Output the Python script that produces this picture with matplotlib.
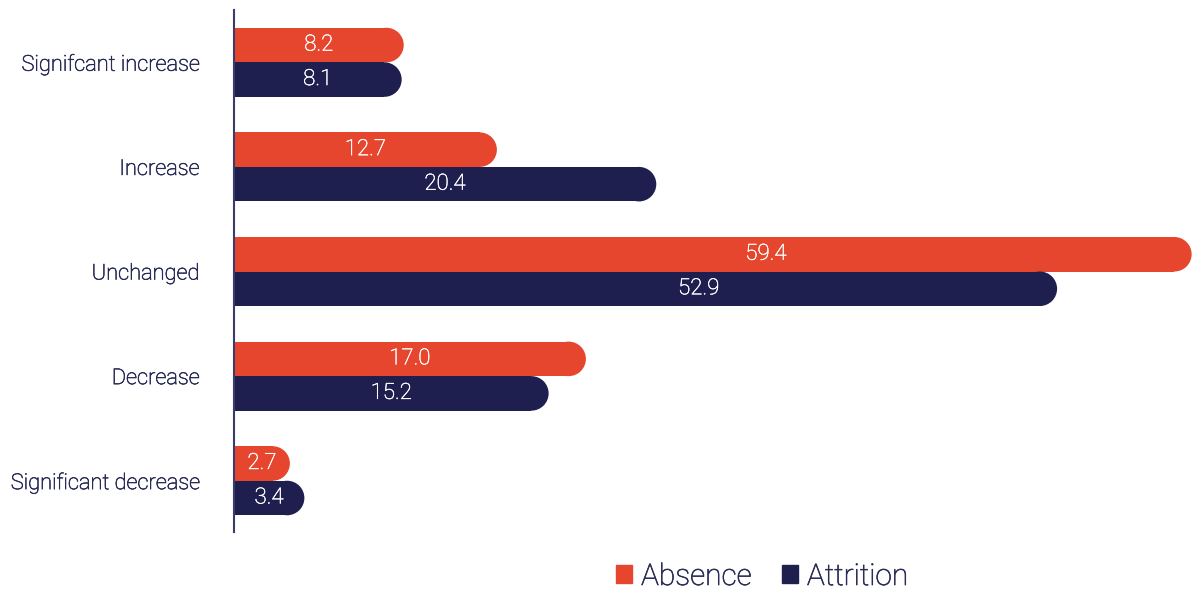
import numpy as np
import matplotlib
matplotlib.use("Agg")
import matplotlib.pyplot as plt
import matplotlib.patheffects as pe
from matplotlib.patches import Ellipse, Patch

# Data
categories = ["Signifcant increase", "Increase", "Unchanged", "Decrease", "Significant decrease"]
absence = [8.2, 12.7, 59.4, 17.0, 2.7]
attrition = [8.1, 20.4, 52.9, 15.2, 3.4]
series_names = ["Absence", "Attrition"]

# Style
RED = "#E6462D"
NAVY = "#1E1F4F"
TEXT = "#2A2C58"
W, H, DPI = 1197, 592, 100
PX_PER_UNIT = 20.7
BAR_H = 0.33
# the original squeezes the long bars: a chunk of the axis is cut out
BREAK_A = 25.0
BREAK_SIZE = 13.15
LABEL_SHIFT = 4.0  # labels on the squeezed bars sit a bit left of centre
EPS = 1e-3

plt.rcParams['font.family'] = ['Roboto', 'DejaVu Sans']


def forward(x):
    x = np.asarray(x, dtype=float)
    b = BREAK_A + BREAK_SIZE
    return np.where(x <= BREAK_A, x,
                    np.where(x < b, BREAK_A + (x - BREAK_A) * EPS,
                             BREAK_A + BREAK_SIZE * EPS + (x - b)))


def inverse(y):
    y = np.asarray(y, dtype=float)
    top = BREAK_A + BREAK_SIZE * EPS
    return np.where(y <= BREAK_A, y,
                    np.where(y < top, BREAK_A + (y - BREAK_A) / EPS,
                             y - top + BREAK_A + BREAK_SIZE))


# light font looks a touch thin, thicken it slightly
thick = [pe.withStroke(linewidth=0.45, foreground=TEXT)]
thick_w = [pe.withStroke(linewidth=0.35, foreground="white")]

fig = plt.figure(figsize=(W / DPI, H / DPI), dpi=DPI)
left = 234 / W
ax = fig.add_axes([left, (H - 532) / H, 1 - left, 522 / H])
ax.set_xscale('function', functions=(forward, inverse))
span = (W - 234) / PX_PER_UNIT
ax.set_xlim(0, float(inverse(span)))
ax.set_ylim(4.49, -0.5)

r = 0.5 * BAR_H * 104.75 / PX_PER_UNIT  # cap radius in axis units
y = np.arange(len(categories))
for vals, col, off in [(absence, RED, -BAR_H / 2), (attrition, NAVY, BAR_H / 2)]:
    for yi, v in zip(y, vals):
        end = float(forward(v)) - r
        ax.barh(yi + off, float(inverse(end)), height=BAR_H, color=col, linewidth=0)
        ax.add_patch(Ellipse((float(inverse(end)), yi + off), 2 * r, BAR_H,
                             color=col, linewidth=0))
        mid = v / 2 if v <= BREAK_A else v / 2 - LABEL_SHIFT
        ax.text(float(inverse(mid)), yi + off, f"{v:.1f}", color="white",
                ha="center", va="center", fontsize=16, fontweight="light",
                path_effects=thick_w)

ax.set_yticks(y)
ax.set_yticklabels(categories, fontsize=15.7, color=TEXT, fontweight="light")
for t in ax.get_yticklabels():
    t.set_path_effects(thick)
ax.tick_params(axis='y', length=0, pad=25)
ax.set_xticks([])
for s in ["top", "right", "bottom"]:
    ax.spines[s].set_visible(False)
ax.spines["left"].set_color("#3A3D6A")
ax.spines["left"].set_linewidth(1.5)

handles = [Patch(color=RED, label=series_names[0]), Patch(color=NAVY, label=series_names[1])]
leg = fig.legend(handles=handles, loc="center", bbox_to_anchor=(762 / W, 1 - 577 / H),
                 ncol=2, frameon=False, handlelength=0.55, handleheight=0.55,
                 handletextpad=0.3, columnspacing=1.0, labelcolor=TEXT,
                 prop={'weight': 'light', 'size': 21.5})
for t in leg.get_texts():
    t.set_path_effects(thick)

fig.savefig("out.png", dpi=DPI)
